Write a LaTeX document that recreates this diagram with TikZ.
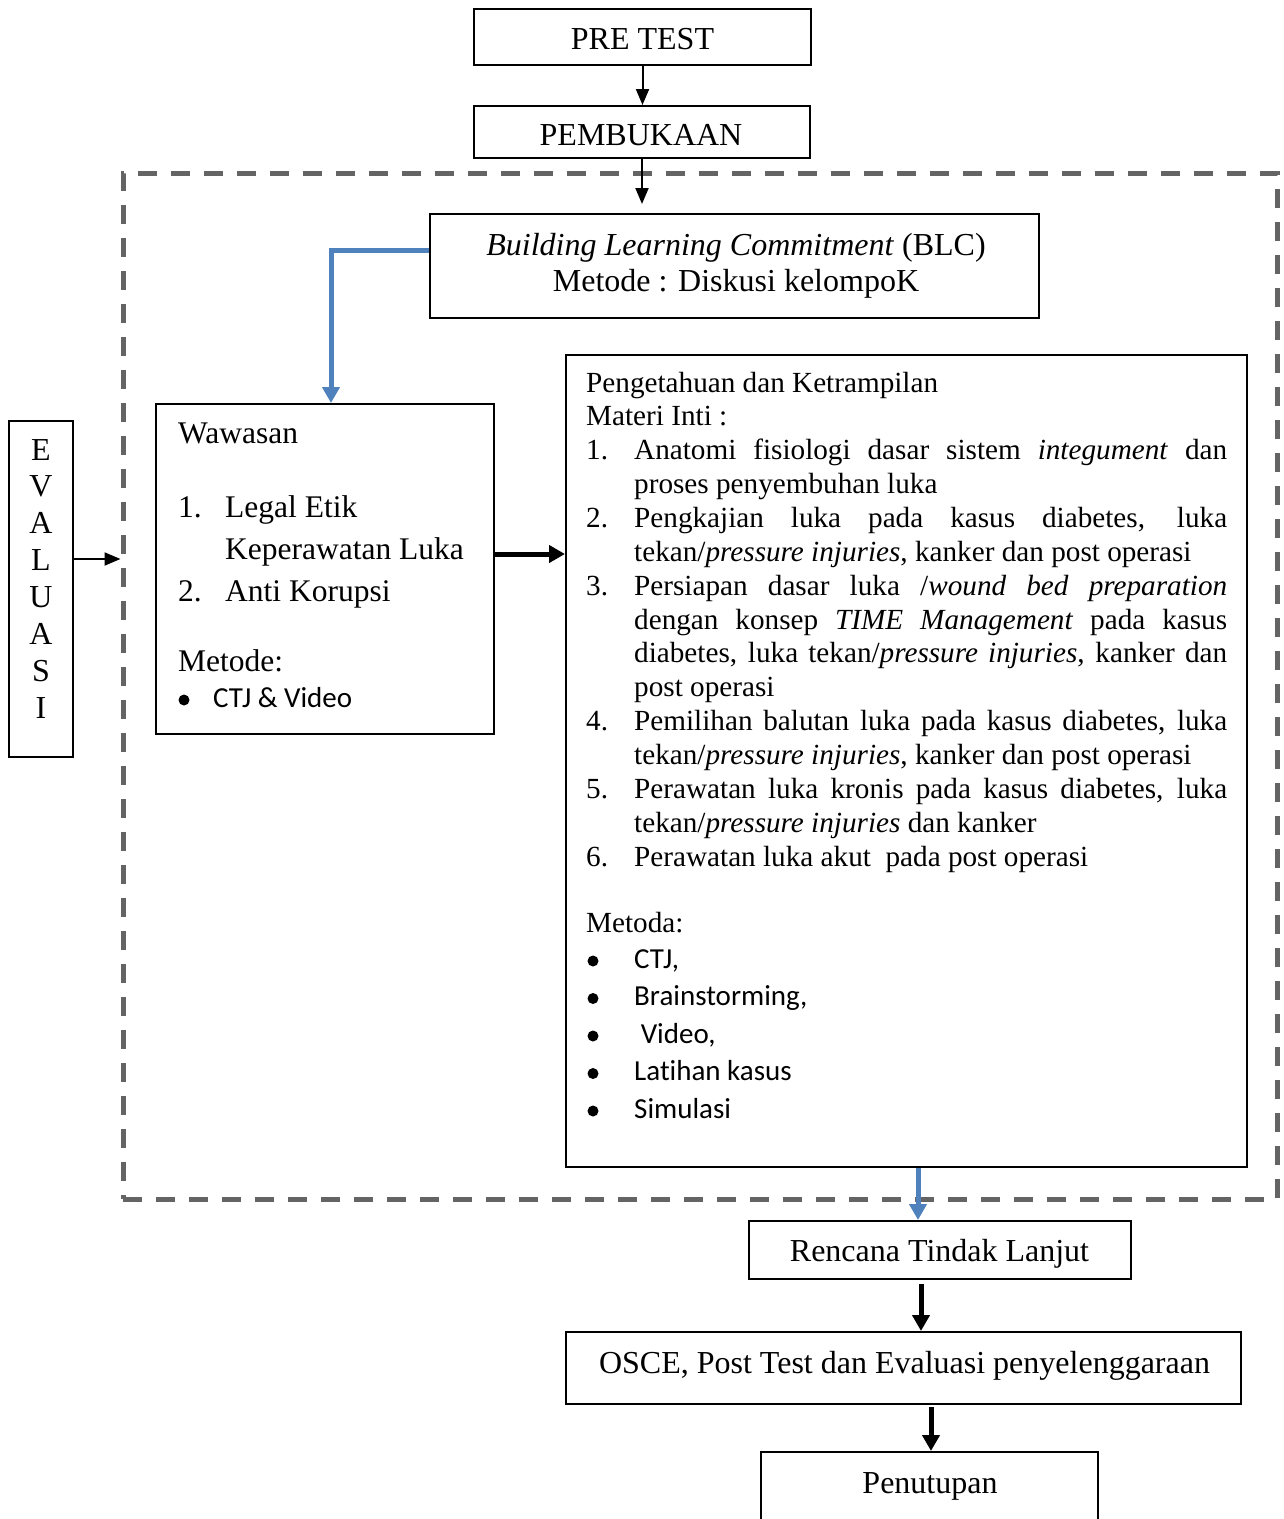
\documentclass[tikz,border=0pt]{standalone}
\usepackage{fontspec}
\setmainfont[Ligatures=NoCommon]{Liberation Serif}
\newfontfamily\calibrifont[Ligatures=NoCommon]{Carlito}
\usetikzlibrary{arrows.meta,calc}
\definecolor{bluelink}{RGB}{79,129,189}
\definecolor{dashgray}{RGB}{100,100,100}
\newcommand\myBig{\fontsize{32}{37}\selectfont}
\newcommand\myWaw{\fontsize{31.5}{41}\selectfont}
\newcommand\myBody{\fontsize{29.2}{34}\selectfont}
\newcommand\mySans{\calibrifont\fontsize{29}{37}\selectfont}
\newcommand\jl[1]{\hbox to 593pt{#1}}
\begin{document}
\begin{tikzpicture}[x=1pt,y=-1pt,
  box/.style={draw=black, line width=2pt, inner sep=0pt},
  frame/.style={draw=dashgray, line width=5pt, dash pattern=on 19pt off 14pt, inner sep=0pt},
  txt/.style={inner sep=0pt, anchor=base west},
  ctxt/.style={inner sep=0pt, anchor=base},
  dot/.style={circle, fill=black, inner sep=0pt, minimum size=11pt},
  thinarr/.style={draw=black, line width=2pt, -{Triangle[length=16pt,width=13pt]}},
  thickarr/.style={draw=black, line width=5pt, -{Triangle[length=16pt,width=17pt]}},
  bluearr/.style={draw=bluelink, line width=5pt, -{Triangle[length=16pt,width=17pt]}},
  bigfont/.style={font=\myBig},
  wawfont/.style={font=\myWaw},
  bodyfont/.style={font=\myBody},
  sansfont/.style={font=\mySans}
]
\useasboundingbox (0,0) rectangle (1284,1519);
\fill[white] (0,0) rectangle (1284,1519);

% dashed frame
\node[frame, minimum width=1154pt, minimum height=1026pt] (frame) at (700,686) {};

% boxes
\node[box, minimum width=337pt, minimum height=56pt] (pre) at (642.5,37) {};
\node[box, minimum width=336pt, minimum height=52pt] (pemb) at (642,132) {};
\node[box, minimum width=609pt, minimum height=104pt] (blc) at (734.5,266) {};
\node[box, minimum width=338pt, minimum height=330pt] (waw) at (325,569) {};
\node[box, minimum width=64pt, minimum height=336pt] (ev) at (41,589) {};
\node[box, minimum width=681pt, minimum height=812pt] (peng) at (906.5,761) {};
\node[box, minimum width=382pt, minimum height=58pt] (rtl) at (940,1250) {};
\node[box, minimum width=675pt, minimum height=72pt] (osce) at (903.5,1368) {};
\node[box, minimum width=337pt, minimum height=93pt] (pen) at (929.5,1498.5) {};

% texts in top/bottom boxes
\node[ctxt, bigfont] (tpre) at (642.5,49) {PRE TEST};
\node[ctxt, bigfont] (tpemb) at (641,145) {PEMBUKAAN};
\node[ctxt, bigfont] (tblc1) at (736,255) {\textit{Building Learning Commitment} (BLC)};
\node[ctxt, bigfont] (tblc2) at (736,291) {Metode : Diskusi kelompoK};
\node[ctxt, bigfont] (trtl) at (939.5,1261) {Rencana Tindak Lanjut};
\node[ctxt, bigfont] (tosce) at (904.5,1373) {OSCE, Post Test dan Evaluasi penyelenggaraan};
\node[ctxt, bigfont] (tpen) at (930,1493) {Penutupan};

% EVALUASI letters
\foreach \l [count=\i from 0] in {E,V,A,L,U,A,S,I}{
  \node[ctxt, bigfont] (ev\i) at (41,{460+36.86*\i}) {\l};
}

% Wawasan box text
\node[txt, wawfont] (w1) at (178,443) {Wawasan};
\node[txt, wawfont] (w2n) at (178,517) {1.};
\node[txt, wawfont] (w2) at (225,517) {Legal Etik};
\node[txt, wawfont] (w3) at (225,559) {Keperawatan Luka};
\node[txt, wawfont] (w4n) at (178,601) {2.};
\node[txt, wawfont] (w4) at (225,601) {Anti Korupsi};
\node[txt, wawfont] (w5) at (178,671) {Metode:};
\node[dot] (w6b) at (184,700) {};
\node[txt, sansfont] (w6) at (213,707) {CTJ \& Video};

% Pengetahuan box text
\node[txt, bodyfont] (p1) at (586,392) {Pengetahuan dan Ketrampilan};
\node[txt, bodyfont] (p2) at (586,425.9) {Materi Inti :};
\node[txt, bodyfont] (p3n) at (586,459.7) {1.};
\node[txt, bodyfont] (p3) at (634,459.7) {\jl{Anatomi fisiologi dasar sistem \textit{integument} dan}};
\node[txt, bodyfont] (p4) at (634,493.6) {proses penyembuhan luka};
\node[txt, bodyfont] (p5n) at (586,527.4) {2.};
\node[txt, bodyfont] (p5) at (634,527.4) {\jl{Pengkajian luka pada kasus diabetes, luka}};
\node[txt, bodyfont] (p6) at (634,561.3) {tekan/\textit{pressure injuries}, kanker dan post operasi};
\node[txt, bodyfont] (p7n) at (586,595.2) {3.};
\node[txt, bodyfont] (p7) at (634,595.2) {\jl{Persiapan dasar luka /\textit{wound bed preparation}}};
\node[txt, bodyfont] (p8) at (634,629.0) {\jl{dengan konsep \textit{TIME Management} pada kasus}};
\node[txt, bodyfont] (p9) at (634,662.9) {\jl{diabetes, luka tekan/\textit{pressure injuries}, kanker dan}};
\node[txt, bodyfont] (p10) at (634,696.7) {post operasi};
\node[txt, bodyfont] (p11n) at (586,730.6) {4.};
\node[txt, bodyfont] (p11) at (634,730.6) {\jl{Pemilihan balutan luka pada kasus diabetes, luka}};
\node[txt, bodyfont] (p12) at (634,764.5) {tekan/\textit{pressure injuries}, kanker dan post operasi};
\node[txt, bodyfont] (p13n) at (586,798.3) {5.};
\node[txt, bodyfont] (p13) at (634,798.3) {\jl{Perawatan luka kronis pada kasus diabetes, luka}};
\node[txt, bodyfont] (p14) at (634,832.2) {tekan/\textit{pressure injuries} dan kanker};
\node[txt, bodyfont] (p15n) at (586,866.0) {6.};
\node[txt, bodyfont] (p15) at (634,866.0) {Perawatan luka akut\ \ pada post operasi};
\node[txt, bodyfont] (p16) at (586,932) {Metoda:};
\foreach \t [count=\i from 0] in {{CTJ,},{Brainstorming,},{\ Video,},{Latihan kasus},{Simulasi}}{
  \node[dot] (pb\i) at (593,{961+37.5*\i}) {};
  \node[txt, sansfont] (pt\i) at (634,{968+37.5*\i}) {\t};
}

% connectors
\draw[thinarr] (pre.south) -- (pre.south |- pemb.north);
\draw[thinarr, shorten >=9pt] (pemb.south) -- (pemb.south |- blc.north);
\draw[bluearr] ([yshift=16pt]blc.west) -| ([xshift=6pt]waw.north);
\coordinate (wa) at ([yshift=15pt]waw.east);
\draw[thickarr] (wa) -- (wa -| peng.west);
\coordinate (ea) at ([yshift=30pt]ev.east);
\draw[thinarr] (ea) -- (ea -| frame.west);
\coordinate (pa) at ([xshift=11.5pt]peng.south);
\draw[bluearr] (pa) -- (pa |- rtl.north);
\coordinate (ra) at ([xshift=-19pt]rtl.south);
\draw[thickarr, shorten <=4pt] (ra) -- (ra |- osce.north);
\coordinate (oa) at ([xshift=27.5pt]osce.south);
\draw[thickarr, shorten <=2pt] (oa) -- (oa |- pen.north);
\end{tikzpicture}
\end{document}
